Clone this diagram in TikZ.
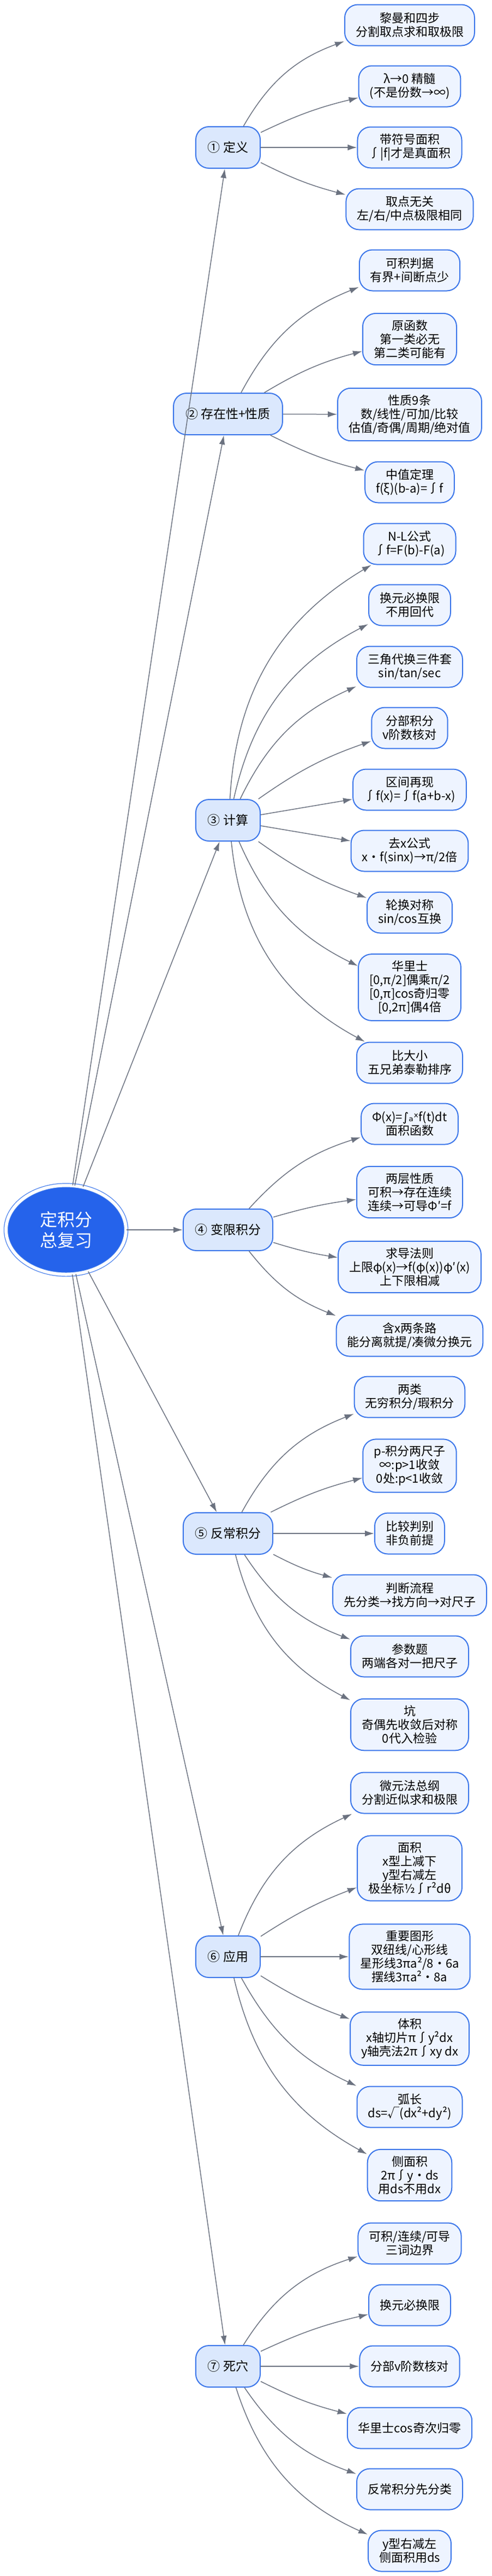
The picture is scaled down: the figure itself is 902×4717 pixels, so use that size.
\documentclass[tikz,border=0pt]{standalone}
\usepackage{fontspec}
\setmainfont{Noto Sans CJK SC}
\newfontfamily\dvfont{DejaVu Sans}
\usetikzlibrary{shapes.geometric,arrows.meta}
\definecolor{rootblue}{HTML}{2563EB}
\definecolor{lineblue}{HTML}{3B76EA}
\definecolor{branchfill}{HTML}{DBE8FD}
\definecolor{leaffill}{HTML}{EEF4FF}
\definecolor{edgegray}{HTML}{6B7280}
\tikzset{every picture/.style={line width=1.5pt},
  root/.style={ellipse,draw=lineblue,line width=1.2pt,double=white,double distance=6pt,fill=rootblue,text=white,
    minimum width=220pt,minimum height=163pt,align=center,font=\fontsize{32}{38}\selectfont},
  branch/.style={draw=lineblue,line width=2pt,fill=branchfill,rounded corners=24pt,minimum height=76pt,
    inner xsep=22pt,align=center,font=\fontsize{23}{25}\selectfont},
  leaf/.style={draw=lineblue,line width=2pt,fill=leaffill,rounded corners=24pt,minimum height=75pt,
    inner xsep=20pt,inner ysep=12pt,align=center,font=\fontsize{22}{25}\selectfont},
  edge/.style={draw=edgegray,-{Latex[length=17pt,width=11pt]}}}

\begin{document}
\begin{tikzpicture}[x=1pt,y=-1pt]
\useasboundingbox (0,0) rectangle (902,4717);
%Root
\node [root] (root) at (121,2252) {定积分\\总复习};
%Branches
\node [branch] (def) at (418,270) {① 定义};
\node [branch] (exi) at (418,758) {② 存在性+性质};
\node [branch] (calc) at (418,1502) {③ 计算};
\node [branch] (var) at (418,2252) {④ 变限积分};
\node [branch] (imp) at (418,2808) {⑤ 反常积分};
\node [branch] (app) at (418,3583) {⑥ 应用};
\node [branch] (trap) at (418,4333) {⑦ 死穴};
%Leaves: definition
\node [leaf] (def1) at (751,46) {黎曼和四步\\分割取点求和取极限};
\node [leaf] (def2) at (751,158) {λ→0 精髓\\(不是份数→∞)};
\node [leaf] (def3) at (751,270) {带符号面积\\∫|f|才是真面积};
\node [leaf] (def4) at (751,383) {取点无关\\左/右/中点极限相同};
%Leaves: existence and properties
\node [leaf] (exi1) at (751,495) {可积判据\\有界+间断点少};
\node [leaf] (exi2) at (751,621) {原函数\\第一类必无\\第二类可能有};
\node [leaf] (exi3) at (751,759) {性质9条\\数/线性/可加/比较\\估值/奇偶/周期/绝对值};
\node [leaf] (exi4) at (751,883) {中值定理\\f(ξ)(b-a)=∫f};
%Leaves: calculation
\node [leaf] (calc1) at (751,996) {N-L公式\\∫f=F(b)-F(a)};
\node [leaf] (calc2) at (751,1108) {换元必换限\\不用回代};
\node [leaf] (calc3) at (751,1221) {三角代换三件套\\sin/tan/sec};
\node [leaf] (calc4) at (751,1333) {分部积分\\v阶数核对};
\node [leaf] (calc5) at (751,1446) {区间再现\\∫f(x)=∫f(a+b-x)};
\node [leaf] (calc6) at (751,1558) {去x公式\\x·f(sinx)→π/2倍};
\node [leaf] (calc7) at (751,1671) {轮换对称\\sin/cos互换};
\node [leaf] (calc8) at (751,1808) {华里士\\{[0,π/2]}偶乘π/2\\{[0,π]}cos奇归零\\{[0,2π]}偶4倍};
\node [leaf] (calc9) at (751,1946) {比大小\\五兄弟泰勒排序};
%Leaves: variable limit
\node [leaf] (var1) at (751,2058) {Φ(x)={\dvfont ∫ₐˣ}f(t)dt\\面积函数};
\node [leaf] (var2) at (751,2183) {两层性质\\可积→存在连续\\连续→可导Φ′=f};
\node [leaf] (var3) at (751,2320) {求导法则\\上限φ(x)→f(φ(x))φ′(x)\\上下限相减};
\node [leaf] (var4) at (751,2446) {含x两条路\\能分离就提/凑微分换元};
%Leaves: improper
\node [leaf] (imp1) at (751,2558) {两类\\无穷积分/瑕积分};
\node [leaf] (imp2) at (751,2684) {p-积分两尺子\\∞:p>1收敛\\0处:p<1收敛};
\node [leaf] (imp3) at (751,2808) {比较判别\\非负前提};
\node [leaf] (imp4) at (751,2921) {判断流程\\先分类→找方向→对尺子};
\node [leaf] (imp5) at (751,3033) {参数题\\两端各对一把尺子};
\node [leaf] (imp6) at (751,3158) {坑\\奇偶先收敛后对称\\0代入检验};
%Leaves: applications
\node [leaf] (app1) at (751,3283) {微元法总纲\\分割近似求和极限};
\node [leaf] (app2) at (751,3421) {面积\\x型上减下\\y型右减左\\极坐标½∫r²dθ};
\node [leaf] (app3) at (751,3583) {重要图形\\双纽线/心形线\\星形线3πa²/8·6a\\摆线3πa²·8a};
\node [leaf] (app4) at (751,3733) {体积\\x轴切片π∫y²dx\\y轴壳法2π∫xy dx};
\node [leaf] (app5) at (751,3858) {弧长\\ds=√(dx²+dy²)};
\node [leaf] (app6) at (751,3983) {侧面积\\2π∫y·ds\\用ds不用dx};
%Leaves: traps
\node [leaf] (trap1) at (751,4108) {可积/连续/可导\\三词边界};
\node [leaf] (trap2) at (751,4221) {换元必换限};
\node [leaf] (trap3) at (751,4333) {分部v阶数核对};
\node [leaf] (trap4) at (751,4446) {华里士cos奇次归零};
\node [leaf] (trap5) at (751,4558) {反常积分先分类};
\node [leaf] (trap6) at (751,4671) {y型右减左\\侧面积用ds};
%Root edges
\foreach \b in {def,exi,calc,var,imp,app,trap}
  \draw [edge] (root) -- (\b);
%Branch edges
\foreach \b/\l/\a in {def/def1/20,def/def2/6,def/def3/0,def/def4/-6,
  exi/exi1/20,exi/exi2/8,exi/exi3/0,exi/exi4/-6,
  calc/calc1/28,calc/calc2/25,calc/calc3/20,calc/calc4/8,calc/calc5/0,calc/calc6/0,calc/calc7/-8,calc/calc8/-20,calc/calc9/-28,
  var/var1/15,var/var2/4,var/var3/-4,var/var4/-15,
  imp/imp1/20,imp/imp2/6,imp/imp3/0,imp/imp4/-6,imp/imp5/-18,imp/imp6/-24,
  app/app1/22,app/app2/6,app/app3/0,app/app4/-6,app/app5/-18,app/app6/-24,
  trap/trap1/20,trap/trap2/6,trap/trap3/0,trap/trap4/-6,trap/trap5/-18,trap/trap6/-24}
  \draw [edge] (\b) to [bend left=\a] (\l);
\end{tikzpicture}
\end{document}
